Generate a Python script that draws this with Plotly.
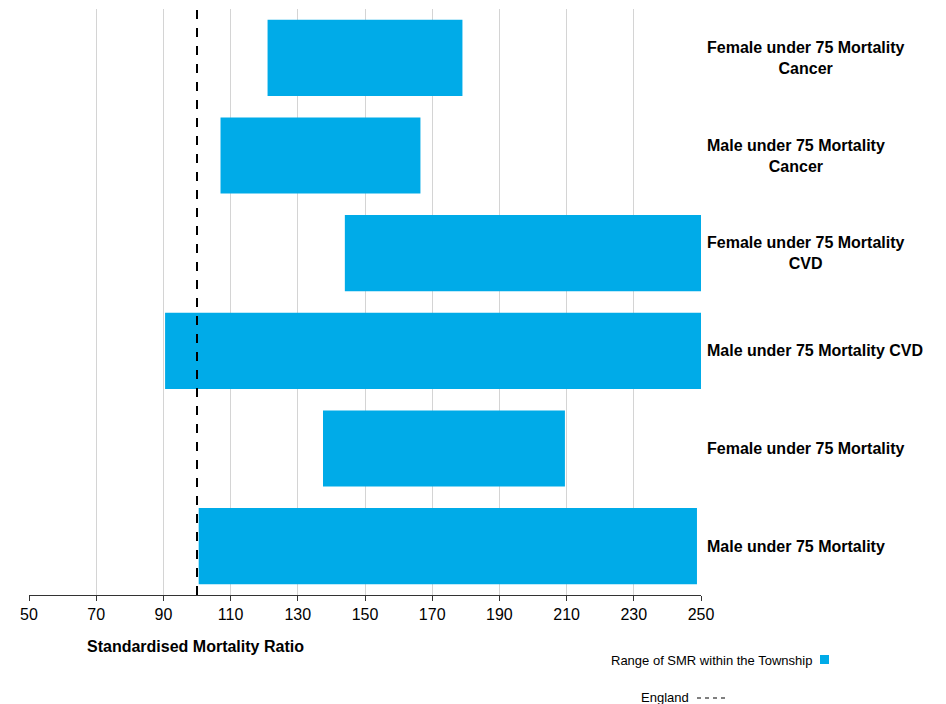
import plotly.graph_objects as go

categories = [
    "Female under 75 Mortality<br>Cancer",
    "Male under 75 Mortality<br>Cancer",
    "Female under 75 Mortality<br>CVD",
    "Male under 75 Mortality CVD",
    "Female under 75 Mortality",
    "Male under 75 Mortality",
]
smr_low = [121, 107, 144, 90.5, 137.5, 100.5]
smr_high = [179, 166.5, 262, 275, 209.5, 248.8]
england = 100
x_ticks = [50, 70, 90, 110, 130, 150, 170, 190, 210, 230, 250]

BLUE = "#00ABE8"
FONT = "Liberation Sans, Arial, sans-serif"

OFF = 8  # page body margin
W, H = 946 - OFF, 704 - OFF
# plot area in screen pixels: x 29..701, y 9..595
L, T = 29 - OFF, 9 - OFF
R = W - (701 - OFF)
B = H - (595 - OFF)
pw, ph = W - L - R, H - T - B


def px(x):  # screen x -> paper
    return (x - 29) / pw


def py(y):  # screen y -> paper
    return (595 - y) / ph


fig = go.Figure()
fig.add_trace(go.Bar(
    y=categories,
    x=[h - l for l, h in zip(smr_low, smr_high)],
    base=smr_low,
    orientation="h",
    marker=dict(color=BLUE, line=dict(width=0)),
    showlegend=False,
    hoverinfo="skip",
))

fig.add_shape(type="line", x0=england, x1=england, y0=0, y1=1,
              xref="x", yref="paper",
              line=dict(color="black", width=2, dash="dash"), layer="above")

for c in categories:
    fig.add_annotation(x=px(705), y=c, xref="paper", yref="y", text="<b>" + c + "</b>",
                       showarrow=False, xanchor="left", align="center",
                       font=dict(family=FONT, size=16, color="black"))

fig.add_annotation(x=px(195), y=py(646), xref="paper", yref="paper",
                   text="<b>Standardised Mortality Ratio</b>", showarrow=False,
                   xanchor="center", yanchor="middle",
                   font=dict(family=FONT, size=16, color="black"))

fig.add_annotation(x=px(814), y=py(660), xref="paper", yref="paper",
                   text="Range of SMR within the Township", showarrow=False,
                   xanchor="right", yanchor="middle",
                   font=dict(family=FONT, size=13, color="black"))
fig.add_shape(type="rect", x0=px(820), x1=px(829), y0=py(664), y1=py(655),
              xref="paper", yref="paper", fillcolor=BLUE, line=dict(width=0))

fig.add_annotation(x=px(691), y=py(697), xref="paper", yref="paper",
                   text="England", showarrow=False,
                   xanchor="right", yanchor="middle",
                   font=dict(family=FONT, size=13, color="black"))
fig.add_shape(type="line", x0=px(697), x1=px(729), y0=py(698), y1=py(698),
              xref="paper", yref="paper",
              line=dict(color="black", width=1, dash="4px,4px"))

fig.update_layout(
    width=W, height=H,
    margin=dict(l=L, r=R, t=T, b=B, pad=0),
    plot_bgcolor="white", paper_bgcolor="white",
    bargap=0.22,
    font=dict(family=FONT, size=16, color="black"),
    xaxis=dict(range=[50, 250], tickvals=x_ticks, ticktext=[str(v) for v in x_ticks],
               showgrid=True, gridcolor="#d4d4d4", gridwidth=1,
               showline=True, linecolor="#333333", linewidth=1,
               ticks="outside", ticklen=5, tickcolor="#333333",
               zeroline=False, tickfont=dict(size=16, family=FONT, color="black")),
    yaxis=dict(categoryorder="array", categoryarray=categories[::-1],
               showticklabels=False, showgrid=False, zeroline=False, showline=False),
)

fig.write_html("out.html")
